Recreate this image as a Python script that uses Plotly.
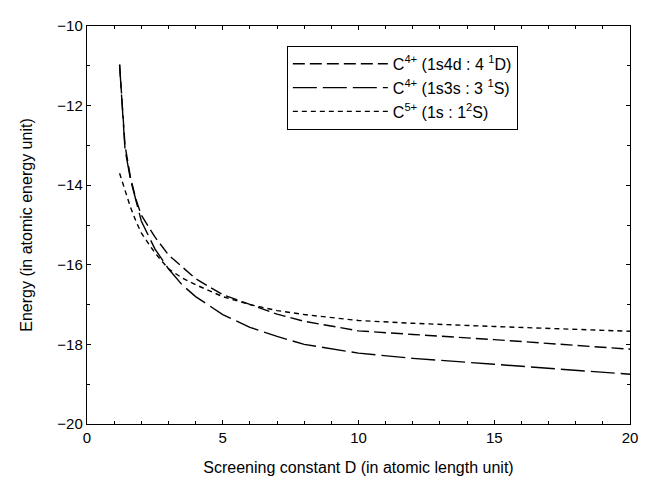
import plotly.graph_objects as go

D = [1.2, 1.4, 1.6, 1.8, 2.0, 2.5, 3.0, 3.5, 4.0, 5.0, 6.0, 7.0, 8.0, 10.0, 12.0, 15.0, 20.0]
E_4d = [-10.97, -13.0, -13.8, -14.35, -14.75, -15.3, -15.75, -16.05, -16.35, -16.75,
        -17.0, -17.24, -17.42, -17.66, -17.75, -17.88, -18.12]
E_3s = [-10.97, -13.1, -13.85, -14.4, -14.9, -15.6, -16.1, -16.5, -16.8, -17.25,
        -17.57, -17.8, -18.0, -18.22, -18.35, -18.5, -18.75]
E_c5 = [-13.7, -14.15, -14.55, -14.9, -15.2, -15.7, -16.1, -16.33, -16.5, -16.8,
        -17.0, -17.15, -17.25, -17.4, -17.47, -17.55, -17.67]

names = ["C<sup>4+</sup> (1s4d : 4 <sup>1</sup>D)",
         "C<sup>4+</sup> (1s3s : 3 <sup>1</sup>S)",
         "C<sup>5+</sup> (1s : 1<sup>2</sup>S)"]

fig = go.Figure()
fig.add_trace(go.Scatter(x=D, y=E_4d, mode="lines", name=names[0],
                         line=dict(color="black", width=1.4, dash="12px,5px")))
fig.add_trace(go.Scatter(x=D, y=E_3s, mode="lines", name=names[1],
                         line=dict(color="black", width=1.4, dash="24px,6px")))
fig.add_trace(go.Scatter(x=D, y=E_c5, mode="lines", name=names[2],
                         line=dict(color="black", width=1.4, dash="5px,4px")))

axis_common = dict(showgrid=False, zeroline=False, showline=True, linecolor="black",
                   linewidth=1.4, mirror="ticks", ticks="inside", ticklen=4,
                   tickcolor="black", tickfont=dict(size=15, color="black"))

fig.update_xaxes(range=[0, 20], tickvals=[0, 5, 10, 15, 20],
                 minor=dict(dtick=1, ticks="inside", ticklen=3, tickcolor="black"),
                 title=dict(text="Screening constant D (in atomic length unit)",
                            font=dict(size=16, color="black"), standoff=16),
                 **axis_common)
fig.update_yaxes(range=[-20, -10], tickvals=[-20, -18, -16, -14, -12, -10],
                 minor=dict(dtick=1, ticks="inside", ticklen=3, tickcolor="black"),
                 title=dict(text="Energy (in atomic energy unit)",
                            font=dict(size=16, color="black"), standoff=20),
                 **axis_common)

fig.update_layout(
    width=647, height=485,
    margin=dict(l=79, r=25, t=9, b=69),
    paper_bgcolor="white", plot_bgcolor="white",
    font=dict(family="Liberation Sans, Arial, sans-serif", color="black"),
    legend=dict(x=0.368, y=0.95, xanchor="left", yanchor="top",
                bordercolor="black", borderwidth=1, bgcolor="white",
                itemwidth=95, font=dict(size=16, color="black"),
                tracegroupgap=0),
    showlegend=True,
)

fig.write_html("out.html")
